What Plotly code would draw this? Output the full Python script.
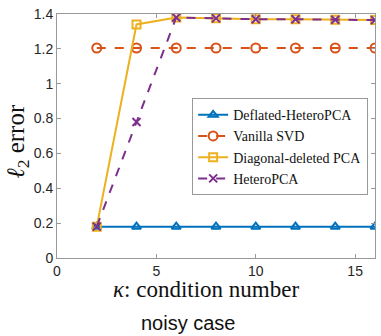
import plotly.graph_objects as go

kappa = [2, 4, 6, 8, 10, 12, 14, 16]
deflated = [0.18, 0.18, 0.18, 0.18, 0.18, 0.18, 0.18, 0.18]
vanilla = [1.205, 1.205, 1.205, 1.205, 1.205, 1.205, 1.205, 1.205]
diag_deleted = [0.18, 1.34, 1.38, 1.375, 1.37, 1.37, 1.367, 1.365]
hetero = [0.18, 0.78, 1.38, 1.375, 1.37, 1.37, 1.367, 1.365]

names = ["Deflated-HeteroPCA", "Vanilla SVD", "Diagonal-deleted PCA", "HeteroPCA"]
colors = ["#0072BD", "#D95319", "#EDB120", "#7E2F8E"]

SERIF = "Liberation Serif"
SANS = "Liberation Sans"

fig = go.Figure()
fig.add_trace(go.Scatter(x=kappa, y=deflated, name=names[0], mode="lines+markers",
                         line=dict(color=colors[0], width=2),
                         marker=dict(symbol="triangle-up-open", size=8, line=dict(width=2, color=colors[0]))))
fig.add_trace(go.Scatter(x=kappa, y=vanilla, name=names[1], mode="lines+markers",
                         line=dict(color=colors[1], width=2, dash="dash"),
                         marker=dict(symbol="circle-open", size=9, line=dict(width=2, color=colors[1]))))
fig.add_trace(go.Scatter(x=kappa, y=diag_deleted, name=names[2], mode="lines+markers",
                         line=dict(color=colors[2], width=2),
                         marker=dict(symbol="square-open", size=8, line=dict(width=2, color=colors[2]))))
fig.add_trace(go.Scatter(x=kappa, y=hetero, name=names[3], mode="lines+markers",
                         line=dict(color=colors[3], width=2, dash="dash"),
                         marker=dict(symbol="x-thin-open", size=8, line=dict(width=2, color=colors[3]))))

axis_common = dict(showgrid=False, zeroline=False, showline=True, linecolor="#999999", linewidth=1,
                   mirror="ticks", ticks="inside", ticklen=4, tickcolor="#999999",
                   tickfont=dict(family=SANS, size=14, color="#262626"))

fig.update_xaxes(range=[0, 16], tickvals=[0, 5, 10, 15], **axis_common)
fig.update_yaxes(range=[0, 1.4], tickvals=[0, 0.2, 0.4, 0.6, 0.8, 1.0, 1.2, 1.4],
                 ticktext=["0", "0.2", "0.4", "0.6", "0.8", "1", "1.2", "1.4"], **axis_common)

fig.update_layout(
    width=381, height=336,
    margin=dict(l=57, r=6, t=14, b=78, autoexpand=False),
    plot_bgcolor="white", paper_bgcolor="white",
    legend=dict(x=0.425, y=0.655, xanchor="left", yanchor="top",
                bgcolor="white", bordercolor="#999999", borderwidth=1,
                font=dict(family=SERIF, size=14, color="#111"),
                tracegroupgap=0, itemwidth=30),
    annotations=[
        dict(text="<i>ℓ</i><sub>2</sub> error", xref="paper", yref="paper", x=-0.123, y=0.48,
             xanchor="center", yanchor="middle", textangle=-90, showarrow=False,
             font=dict(family=SERIF, size=25, color="#111")),
        dict(text="<i>κ</i>: condition number", xref="paper", yref="paper", x=0.47, y=-0.128,
             xanchor="center", yanchor="middle", showarrow=False,
             font=dict(family=SERIF, size=23, color="#111")),
        dict(text="noisy case", xref="paper", yref="paper", x=0.415, y=-0.268,
             xanchor="center", yanchor="middle", showarrow=False,
             font=dict(family=SANS, size=20, color="#111")),
    ],
)

fig.write_html("out.html", config={"displayModeBar": False},
               post_script="document.body.style.margin='0';document.body.style.padding='0';")
